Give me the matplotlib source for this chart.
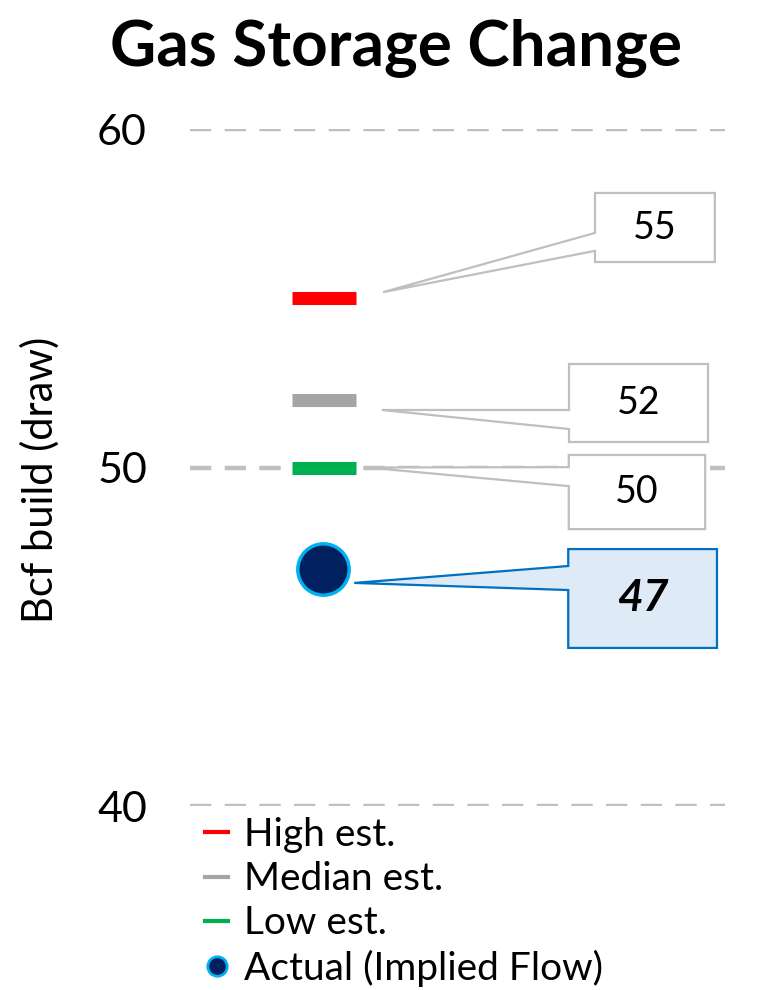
import matplotlib.pyplot as plt
from matplotlib.lines import Line2D
from matplotlib.patches import Polygon

plt.rcParams['font.family'] = ['Lato', 'DejaVu Sans']

labels = ['High est.', 'Median est.', 'Low est.', 'Actual (Implied Flow)']
values = [55, 52, 50, 47]
colors = ['#FF0000', '#A5A5A5', '#00B050', '#002060']
yticks = [40, 50, 60]

# callout layout: box x0, x1, box top/bottom offset, tip (x, dy), wedge upper/lower offset
callouts = [
    (0.757, 0.981, 3.11, 1.07, 0.361, 0.18, 1.93, 1.40),
    (0.708, 0.968, 1.06, -1.25, 0.359, -0.30, -0.30, -0.86),
    (0.708, 0.963, 0.37, -1.82, 0.331, 0.0, 0.01, -0.55),
    (0.707, 0.985, 0.59, -2.33, 0.307, -0.41, 0.09, -0.62),
]

fig = plt.figure(figsize=(7.76, 9.90), dpi=100)
ax = fig.add_axes([190 / 776, 1 - 806 / 990, 535 / 776, 677 / 990])
ax.set_xlim(0, 1)
ax.set_ylim(40, 60)
for s in ax.spines.values():
    s.set_visible(False)
ax.set_xticks([])
ax.set_yticks(yticks)
ax.tick_params(axis='y', length=0, pad=31, labelsize=31)
ax.yaxis.grid(True, color='#C0C0C0', lw=3.2, linestyle=(0, (4.8, 3.0)))
ax.set_axisbelow(True)

xc = 0.25
for v, c in zip(values[:3], colors[:3]):
    ax.hlines(v, xc - 0.06, xc + 0.06, color=c, lw=9.4, zorder=3)
ax.plot(xc - 0.002, values[3], 'o', ms=37, mfc=colors[3], mec='#00B0F0', mew=2.5,
        zorder=4, clip_on=False)

for i, (v, cl) in enumerate(zip(values, callouts)):
    x0, x1, top, bot, tx, tdy, wu, wl = cl
    pts = [(tx, v + tdy), (x0, v + wu), (x0, v + top), (x1, v + top),
           (x1, v + bot), (x0, v + bot), (x0, v + wl)]
    last = i == 3
    ax.add_patch(Polygon(pts, closed=True, fc='#DEEAF6' if last else 'white',
                         ec='#0070C0' if last else '#BFBFBF', lw=1.6, zorder=5,
                         clip_on=False))
    ax.text((x0 + x1) / 2, v + (top + bot) / 2, str(v), ha='center', va='center',
            fontsize=32 if last else 27, fontweight='bold' if last else 'normal',
            style='italic' if last else 'normal', zorder=6)

fig.text(396 / 776, 1 - 48 / 990, 'Gas Storage Change', ha='center', va='center',
         fontsize=46, fontweight='bold')
fig.text(40 / 776, 1 - 480 / 990, 'Bcf build (draw)', ha='center', va='center',
         rotation=90, fontsize=30)

handles = [Line2D([], [], color=c, lw=3) for c in colors[:3]]
handles.append(Line2D([], [], ls='none', marker='o', ms=14, mfc=colors[3],
                      mec='#00B0F0', mew=2))
fig.legend(handles, labels, loc='upper left', bbox_to_anchor=(205 / 776, 1 - 817 / 990),
           frameon=False, fontsize=28, handlelength=0.6, handletextpad=0.4,
           labelspacing=0.21, borderaxespad=0, borderpad=0)

fig.savefig('out.png', dpi=100)
